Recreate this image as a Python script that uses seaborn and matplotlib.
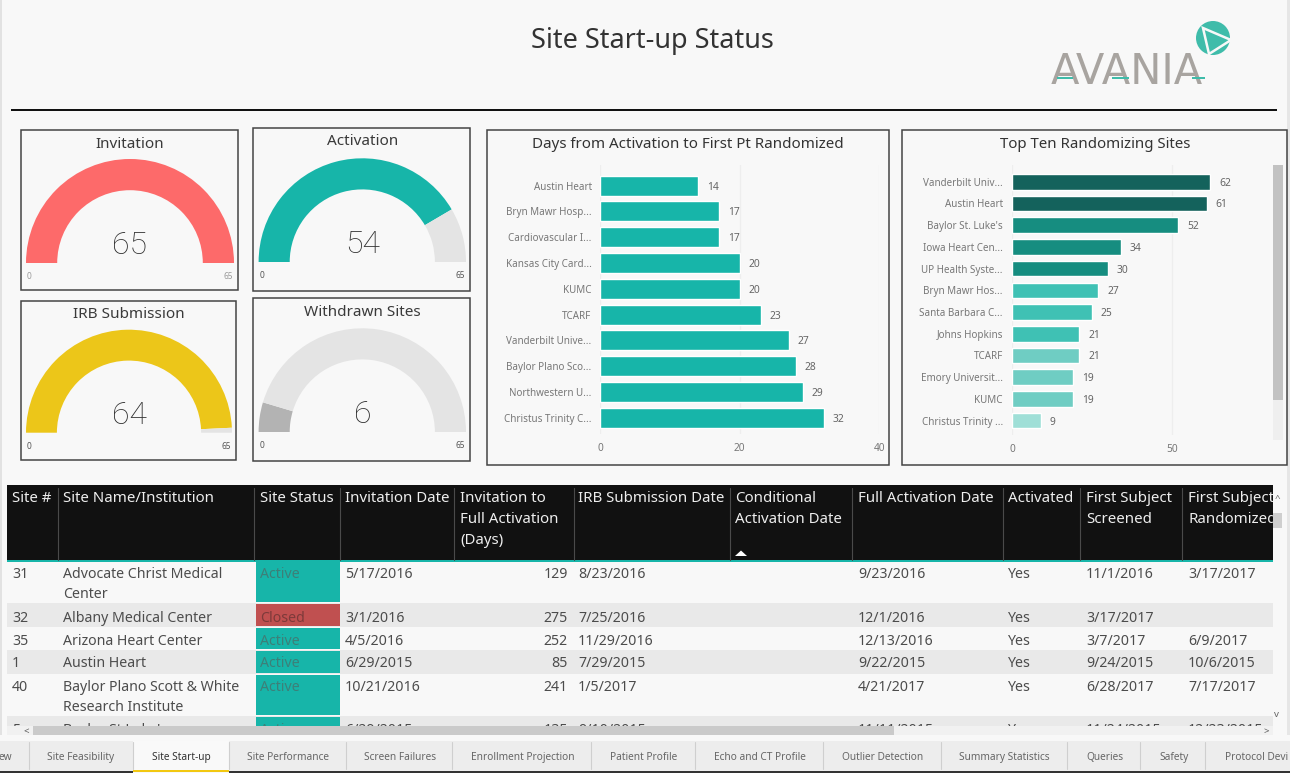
import matplotlib
matplotlib.use("Agg")
import matplotlib.pyplot as plt
from matplotlib.patches import Rectangle, Circle, Polygon
import seaborn as sns

# ---------- data ----------
page_title = "Site Start-up Status"
gauge_titles = ["Invitation", "Activation", "IRB Submission", "Withdrawn Sites"]
gauge_values = [65, 54, 64, 6]
gauge_max = 65

days_sites = ["Austin Heart", "Bryn Mawr Hosp...", "Cardiovascular I...", "Kansas City Card...", "KUMC",
              "TCARF", "Vanderbilt Unive...", "Baylor Plano Sco...", "Northwestern U...", "Christus Trinity C..."]
days_values = [14, 17, 17, 20, 20, 23, 27, 28, 29, 32]
days_title = "Days from Activation to First Pt Randomized"

top_sites = ["Vanderbilt Univ...", "Austin Heart", "Baylor St. Luke's", "Iowa Heart Cen...", "UP Health Syste...",
             "Bryn Mawr Hos...", "Santa Barbara C...", "Johns Hopkins", "TCARF", "Emory Universit...", "KUMC",
             "Christus Trinity ..."]
top_values = [62, 61, 52, 34, 30, 27, 25, 21, 21, 19, 19, 9]
top_colors = ["#14625c", "#14625c", "#168d80", "#168d80", "#168d80", "#3fc1b4", "#3fc1b4", "#3fc1b4",
              "#6fcdc3", "#6fcdc3", "#6fcdc3", "#9fdfd7"]
top_title = "Top Ten Randomizing Sites"

header_labels = [["Site #"], ["Site Name/Institution"], ["Site Status"], ["Invitation Date"],
                 ["Invitation to", "Full Activation", "(Days)"], ["IRB Submission Date"],
                 ["Conditional", "Activation Date"], ["Full Activation Date"], ["Activated"],
                 ["First Subject", "Screened"], ["First Subject", "Randomized"]]
site_ids = ["31", "32", "35", "1", "40", "5"]
site_names = ["Advocate Christ Medical\nCenter", "Albany Medical Center", "Arizona Heart Center", "Austin Heart",
              "Baylor Plano Scott & White\nResearch Institute", "Baylor St Luke's"]
site_status = ["Active", "Closed", "Active", "Active", "Active", "Active"]
invitation_dates = ["5/17/2016", "3/1/2016", "4/5/2016", "6/29/2015", "10/21/2016", "6/29/2015"]
invitation_days = ["129", "275", "252", "85", "241", "135"]
irb_dates = ["8/23/2016", "7/25/2016", "11/29/2016", "7/29/2015", "1/5/2017", "9/10/2015"]
conditional_dates = ["", "", "", "", "", ""]
full_dates = ["9/23/2016", "12/1/2016", "12/13/2016", "9/22/2015", "4/21/2017", "11/11/2015"]
activated = ["Yes", "Yes", "Yes", "Yes", "Yes", "Yes"]
first_screened = ["11/1/2016", "3/17/2017", "3/7/2017", "9/24/2015", "6/28/2017", "11/24/2015"]
first_randomized = ["3/17/2017", "", "6/9/2017", "10/6/2015", "7/17/2017", "12/23/2015"]

tab_labels = ["ew", "Site Feasibility", "Site Start-up", "Site Performance", "Screen Failures",
              "Enrollment Projection", "Patient Profile", "Echo and CT Profile", "Outlier Detection",
              "Summary Statistics", "Queries", "Safety", "Protocol Devi"]

# ---------- style ----------
sns.set_theme(style="white")
FONT = ["Noto Sans", "DejaVu Sans"]
plt.rcParams["font.family"] = FONT
W, H = 1290, 773
BG = "#f8f8f8"
TEAL = "#17b5a9"
HEAD_SIZE = 10.8
ROW_SIZE = 10.2
fig = plt.figure(figsize=(W / 100, H / 100), dpi=100, facecolor=BG)


def px_axes(x0, y0, x1, y1, z=2):
    ax = fig.add_axes([x0 / W, 1 - y1 / H, (x1 - x0) / W, (y1 - y0) / H], zorder=z)
    ax.patch.set_alpha(0)
    return ax


# ---------- overlay in pixel coordinates ----------
ov = fig.add_axes([0, 0, 1, 1], zorder=1)
ov.set_xlim(0, W)
ov.set_ylim(H, 0)
ov.axis("off")


def rect(x0, y0, x1, y1, z=1, **kw):
    kw.setdefault("linewidth", 0)
    ov.add_patch(Rectangle((x0, y0), x1 - x0, y1 - y0, zorder=z, **kw))


def txt(x, y, s, size=11, color="#444444", ha="left", z=3, **kw):
    ov.text(x, y + 1.5, s, fontsize=size, color=color, ha=ha, va="center", zorder=z, **kw)


# page edges
rect(0, 0, 1.5, 741, facecolor="#e2e2e2")
rect(1287, 0, W, 741, facecolor="#e6e6e6")

# title, rule
txt(652, 39.5, page_title, size=19.5, color="#333333", ha="center")
rect(11, 108.5, 1277, 110.8, facecolor="#111111")

# logo
ov.add_patch(Circle((1213, 38), 17, facecolor="#3fbcaa", linewidth=0, zorder=2))
ov.add_patch(Polygon([(1203, 28), (1231, 40), (1209, 54)], closed=True, fill=False,
                     edgecolor="#f8f8f8", linewidth=1.8, zorder=3))
txt(1127, 70, "AVANIA", size=30, color="#a8a4a0", ha="center", family=["DejaVu Sans"])
for dash_x in [(1057, 1073), (1112, 1129), (1192, 1205)]:
    rect(dash_x[0], 77, dash_x[1], 79, z=4, facecolor="#3fbcaa")

# panel frames
frames = [(20.5, 130, 238, 290), (253, 128, 470, 291), (20.5, 301, 236, 460), (253, 298, 470, 461),
          (486.5, 130, 889, 465), (902, 130, 1287, 465)]
for x0, y0, x1, y1 in frames:
    rect(x0, y0, x1, y1, z=1.5, fill=False, edgecolor="#444444", linewidth=1.1)

# ---------- gauges ----------
gauge_geom = [(130, 263, 104, 143), (362.3, 262, 103.7, 140), (129, 432.7, 103, 313), (362.3, 432, 103.7, 311)]
gauge_fill = ["#fd6a6a", TEAL, "#ecc619", "#b3b3b3"]
gauge_track = "#e4e4e4"
limit_colors = ["#9a9a9a", "#555555", "#555555", "#555555"]
for i, (cx, base, r, ty) in enumerate(gauge_geom):
    ax = px_axes(cx - r, base - r, cx + r, base)
    v = gauge_values[i]
    ax.pie([v, gauge_max - v, gauge_max], colors=[gauge_fill[i], gauge_track, "none"], startangle=180,
           counterclock=False, radius=1, wedgeprops=dict(width=0.3, linewidth=0))
    ax.set_xlim(-1, 1)
    ax.set_ylim(0, 1)
    ax.set_aspect("auto")
    txt(cx, ty, gauge_titles[i], size=11, color="#3a3a3a", ha="center")
    txt(cx, base - 19, str(v), size=23, color="#2e2e2e", ha="center", z=5,
        family=["Roboto", "DejaVu Sans"], fontweight="light")
    txt(cx - r + 1, base + 12, "0", size=6, color=limit_colors[i])
    txt(cx + r - 1, base + 12, str(gauge_max), size=6, color=limit_colors[i], ha="right")


def style_bar(ax, xticks, pad_y):
    ax.set_xticks(xticks)
    ax.grid(axis="x", color="#eeeeee", linewidth=1)
    ax.grid(axis="y", visible=False)
    ax.set_axisbelow(True)
    ax.set_xlabel("")
    ax.set_ylabel("")
    sns.despine(ax=ax, left=True, bottom=True)
    ax.tick_params(axis="y", length=0, pad=pad_y, labelsize=7.1, labelcolor="#777777")
    ax.tick_params(axis="x", length=0, pad=6.5, labelsize=7.3, labelcolor="#777777")
    for c in ax.containers:
        for t in ax.bar_label(c, padding=6.5, fontsize=7.4, color="#666666"):
            t.set_verticalalignment("center_baseline")


# ---------- bar chart 1 ----------
ax1 = px_axes(600.3, 165, 879.3, 434)
sns.barplot(x=days_values, y=days_sites, color=TEAL, saturation=1, width=0.77, orient="h", ax=ax1)
ax1.set_xlim(0, 40)
ax1.set_ylim(9.63, -0.8)
style_bar(ax1, [0, 20, 40], 6.2)
txt(688, 143, days_title, size=10.9, color="#333333", ha="center")

# ---------- bar chart 2 ----------
ax2 = px_axes(1012, 165, 1012 + 80 * 3.194, 435)
sns.barplot(x=top_values, y=top_sites, hue=top_sites, palette=top_colors, legend=False, saturation=1,
            width=0.72, orient="h", ax=ax2)
ax2.set_xlim(0, 80)
ax2.set_ylim(11.66, -0.77)
style_bar(ax2, [0, 50], 6.5)
txt(1095, 143, top_title, size=10.8, color="#333333", ha="center")
rect(1273, 165, 1283, 400, z=3, facecolor="#c2c2c2")
rect(1273, 400, 1283, 440, z=3, facecolor="#efefef")

# ---------- table ----------
col_x = [12, 63, 260, 345, 460, 578, 735, 858, 1008, 1086, 1188]
sep_x = [58, 254, 340, 454, 574, 730, 852, 1003, 1079.5, 1182]
rect(7, 485, 1273, 560, facecolor="#111111")
rect(7, 560, 1273, 561.5, facecolor=TEAL)
for x in sep_x:
    ov.plot([x, x], [488, 560], color="#4a4a4a", lw=0.8, zorder=1.5)
for x, lines in zip(col_x, header_labels):
    for j, line in enumerate(lines):
        txt(x, 497 + 21 * j, line, size=HEAD_SIZE, color="#eeeeee")
ov.add_patch(Polygon([(735, 556), (747, 556), (741, 550.5)], closed=True, facecolor="#ffffff", linewidth=0, zorder=3))

row_edges = [561.5, 603, 627, 650, 674, 716, 740]
row_text_y = [573, 617, 640, 662, 686, 729]
row_bg = ["#f8f8f8", "#e9e9e9"]
for i, sid in enumerate(site_ids):
    y0, y1 = row_edges[i], row_edges[i + 1]
    rect(7, y0, 1273, y1, facecolor=row_bg[i % 2])
    closed = site_status[i] == "Closed"
    rect(255.5, y0 + 0.8, 340, y1 - 0.8, z=1.2, facecolor="#c05050" if closed else TEAL)
    y = row_text_y[i]
    left_cols = [(12, sid), (63, site_names[i]), (345, invitation_dates[i]), (578, irb_dates[i]),
                 (735, conditional_dates[i]), (858, full_dates[i]), (1008, activated[i]),
                 (1086, first_screened[i]), (1188, first_randomized[i])]
    for x, s in left_cols:
        for j, line in enumerate(s.split("\n")):
            txt(x, y + 20 * j, line, size=ROW_SIZE, color="#4c4c4c")
    txt(260, y, site_status[i], size=ROW_SIZE, color="#7d3a3a" if closed else "#3d7f78")
    txt(568, y, invitation_days[i], size=ROW_SIZE, color="#4c4c4c", ha="right")

# covers that clip the table: right scrollbar gutter, horizontal scrollbar, tab strip
rect(1273, 485, 1287, 738, z=4, facecolor=BG)
rect(1273, 513, 1282, 528, z=4.1, facecolor="#cfcfcf")
txt(1277, 497, "^", size=7, color="#666666", ha="center", z=4.2)
txt(1277, 713, "v", size=7, color="#666666", ha="center", z=4.2)
rect(7, 726, 1273, 735, z=4, facecolor="#f1f1f1")
rect(33, 726, 894, 735, z=4.1, facecolor="#cacaca")
rect(0, 735, W, 741, z=4, facecolor=BG)
txt(26, 730.5, "<", size=7, color="#555555", ha="center", z=4.2)
txt(1266, 730.5, ">", size=7, color="#555555", ha="center", z=4.2)

# ---------- tabs ----------
rect(0, 741, W, 771, z=4, facecolor="#ededed")
rect(133, 741, 228.5, 770, z=4.1, facecolor="#f9f9f9")
rect(133, 769.5, 228.5, 772, z=4.2, facecolor="#f2c811")
rect(0, 771, 133, H, z=4.2, facecolor="#333333")
rect(228.5, 771, W, H, z=4.2, facecolor="#333333")
for x in [28.5, 132.7, 228.6, 345.7, 452, 591, 694.7, 823, 941.4, 1067, 1140, 1205]:
    ov.plot([x, x], [742, 769], color="#cfcfcf", lw=0.8, zorder=4.3)
tab_x = [5.5, 81, 181, 288, 400, 523, 644, 760, 883, 1004, 1105, 1174, 1225]
for x, s in zip(tab_x, tab_labels):
    active = s == "Site Start-up"
    left = s == "Protocol Devi"
    txt(x, 756, s, size=7.3, color="#333333" if active else "#666666", ha="left" if left else "center", z=5)

fig.savefig("out.png", dpi=100, facecolor=BG)
